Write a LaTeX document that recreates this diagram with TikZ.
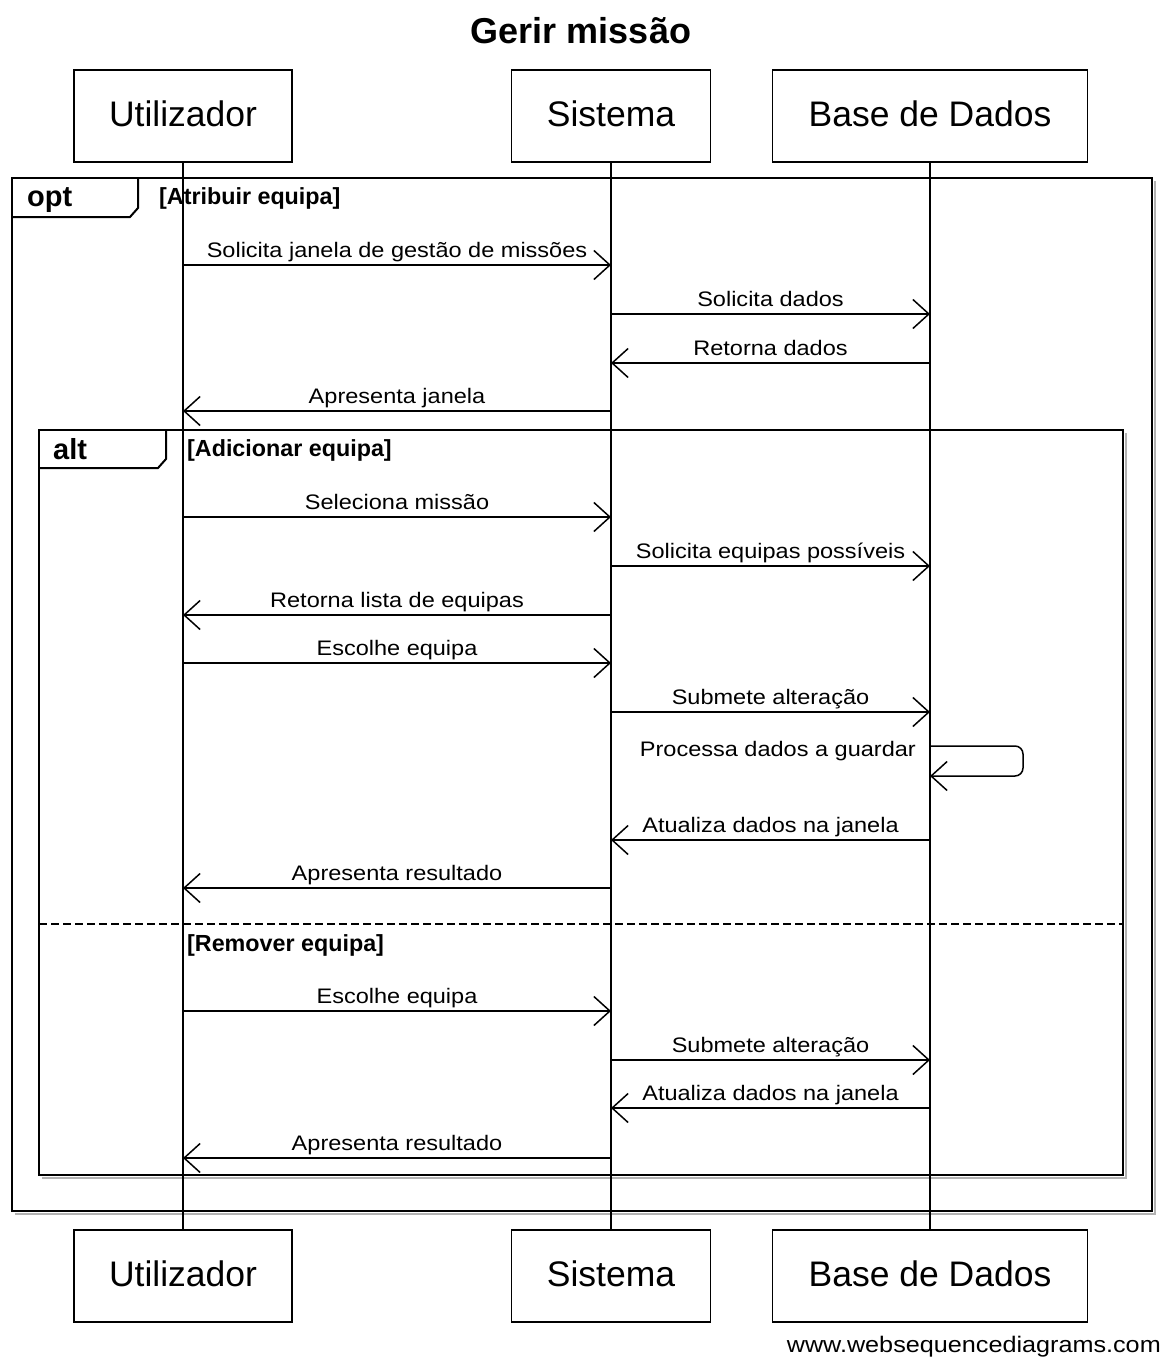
\documentclass[tikz,border=0pt]{standalone}
\usepackage{fontspec}
\setmainfont{Liberation Sans}
\newfontfamily\lblfont[FakeStretch=1.12]{Liberation Sans}
\usetikzlibrary{arrows.meta,calc}

\newcommand{\seqmsg}[4]{%
  \coordinate (m) at (0,#3);
  \draw[msg] (#1 |- m) -- (#2 |- m)
    node[lbl, midway, yshift=7.5pt] {#4};
}

\begin{document}
\begin{tikzpicture}[x=1pt,y=-1pt,
  box/.style={draw, line width=1.5pt, minimum height=92pt, inner sep=0pt,
    text height=25pt, text depth=5pt, font=\fontsize{35.5}{40}\selectfont},
  life/.style={line width=1.5pt},
  msg/.style={line width=1.5pt, -{Straight Barb[length=16pt,width=29pt,line width=1.5pt]}},
  lbl/.style={font=\lblfont\fontsize{21}{25}\selectfont, inner sep=0pt, anchor=base},
  frm/.style={line width=2.5pt},
  shd/.style={line width=2.5pt, black!30},
  tabtxt/.style={font=\bfseries\fontsize{29}{34}\selectfont, inner sep=0pt, anchor=base west},
  guard/.style={font=\bfseries\fontsize{23.3}{27}\selectfont, inner sep=0pt, anchor=base west},
]
\fill[white] (0,0) rectangle (1165,1357);
\useasboundingbox (0,0) rectangle (1165,1357);

% title
\node[font=\bfseries\fontsize{36}{40}\selectfont, anchor=base, inner sep=0pt] (title) at (581,43) {Gerir missão};

% participants
\node[box, minimum width=218pt] (UT) at (183,116) {Utilizador};
\node[box, minimum width=199pt] (ST) at (611,116) {Sistema};
\node[box, minimum width=315pt] (BT) at (930,116) {Base de Dados};
\node[box, minimum width=218pt] (UB) at (183,1276) {Utilizador};
\node[box, minimum width=199pt] (SB) at (611,1276) {Sistema};
\node[box, minimum width=315pt] (BB) at (930,1276) {Base de Dados};

% opt frame
\draw[shd] (1155,181) -- (1155,1214) -- (15,1214);
\draw[frm] (12,178) rectangle (1152,1211);
\draw[line width=2pt] (12,217) -- (130,217) -- (138,208) -- (138,178);
\node[tabtxt] (optlbl) at (27,206) {opt};
\node[guard] (optg) at (159,204) {[Atribuir equipa]};

% alt frame
\draw[shd] (1126,433) -- (1126,1178) -- (42,1178);
\draw[frm] (39,430) rectangle (1123,1175);
\draw[line width=2pt] (39,468) -- (158,468) -- (166,459) -- (166,430);
\node[tabtxt] (altlbl) at (53,459) {alt};
\node[guard] (altg1) at (187,456) {[Adicionar equipa]};
\draw[frm, dash pattern=on 8pt off 4pt] (39,924) -- (1123,924);
\node[guard] (altg2) at (187,951) {[Remover equipa]};

% lifelines
\draw[life] (UT.south) -- (UB.north);
\draw[life] (ST.south) -- (SB.north);
\draw[life] (BT.south) -- (BB.north);

% messages
\seqmsg{UT}{ST}{265}{Solicita janela de gestão de missões}
\seqmsg{ST}{BT}{314}{Solicita dados}
\seqmsg{BT}{ST}{363}{Retorna dados}
\seqmsg{ST}{UT}{411}{Apresenta janela}

\seqmsg{UT}{ST}{517}{Seleciona missão}
\seqmsg{ST}{BT}{566}{Solicita equipas possíveis}
\seqmsg{ST}{UT}{615}{Retorna lista de equipas}
\seqmsg{UT}{ST}{663}{Escolhe equipa}
\seqmsg{ST}{BT}{712}{Submete alteração}

% self message
\coordinate (s1) at (0,746);
\coordinate (s2) at (0,776);
\draw[msg, rounded corners=8pt] (BT |- s1) -- ++(93,0) -- ++(0,30) -- (BT |- s2);
\node[lbl, anchor=base east] (selflbl) at (916,756) {Processa dados a guardar};

\seqmsg{BT}{ST}{840}{Atualiza dados na janela}
\seqmsg{ST}{UT}{888}{Apresenta resultado}

\seqmsg{UT}{ST}{1011}{Escolhe equipa}
\seqmsg{ST}{BT}{1060}{Submete alteração}
\seqmsg{BT}{ST}{1108}{Atualiza dados na janela}
\seqmsg{ST}{UT}{1158}{Apresenta resultado}

% watermark
\node[font=\lblfont\fontsize{22.5}{26}\selectfont, inner sep=0pt, anchor=base east] (wm) at (1161,1352) {www.websequencediagrams.com};
\end{tikzpicture}
\end{document}
